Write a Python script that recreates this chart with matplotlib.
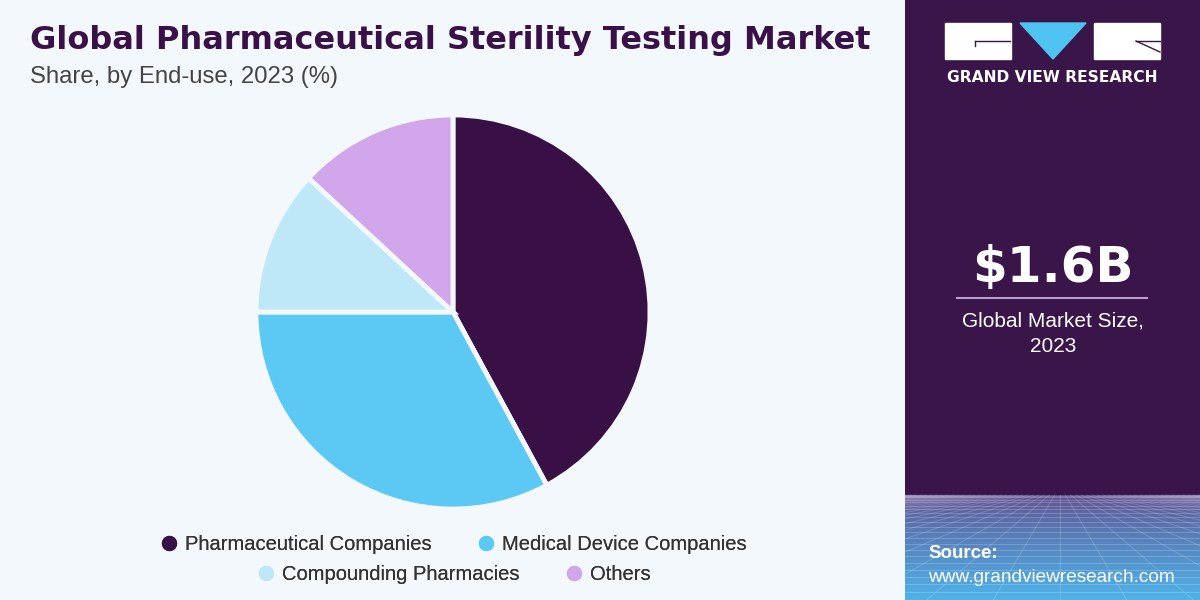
import matplotlib
matplotlib.use("Agg")
import matplotlib.pyplot as plt
import numpy as np
from matplotlib.lines import Line2D
from matplotlib.patches import Rectangle, Polygon

# data
segments = ["Pharmaceutical Companies", "Medical Device Companies",
            "Compounding Pharmacies", "Others"]
shares = [42.1, 32.9, 11.9, 13.1]
colors = ["#391046", "#5cc9f5", "#bee8f8", "#d1a6ea"]

title = "Global Pharmaceutical Sterility Testing Market"
subtitle = "Share, by End-use, 2023 (%)"
market_size = "$1.6B"
market_label = "Global Market Size,\n2023"

W, H = 1200, 600
bg = "#f3f8fc"
panel = "#3a1549"
dark = "#3a1048"

fig = plt.figure(figsize=(12, 6), dpi=100, facecolor=bg)

# pie
cx, cy, r = 453, 312, 199
ax = fig.add_axes([(cx - r) / W, (H - cy - r) / H, 2 * r / W, 2 * r / H])
ax.pie(shares, colors=colors, startangle=90, counterclock=False,
       wedgeprops=dict(edgecolor=bg, linewidth=3.5))
ax.set_xlim(-1.01, 1.01)
ax.set_ylim(-1.01, 1.01)
ax.set_aspect("equal")
ax.axis("off")

# titles
fig.text(30 / W, 1 - 40 / H, title, fontsize=23, fontweight="heavy",
         color=dark, va="center", ha="left", family="DejaVu Sans")
fig.text(30 / W, 1 - 77 / H, subtitle, fontsize=17.2, color="#444444",
         va="center", ha="left", family="Liberation Sans")

# legend, two centred rows
handles = [Line2D([], [], marker="o", linestyle="none", markersize=10,
                  markerfacecolor=c, markeredgecolor=c) for c in colors]
for row, y in ((0, 545), (1, 575)):
    leg = fig.legend(handles[2 * row:2 * row + 2], segments[2 * row:2 * row + 2],
                     loc="center", bbox_to_anchor=(cx / W, 1 - y / H), ncol=2,
                     frameon=False, handletextpad=0.3, columnspacing=2.2,
                     handlelength=1.0,
                     prop=dict(family="Liberation Sans", size=14.5))
    for t in leg.get_texts():
        t.set_color("#333333")
    fig.add_artist(leg)

# right panel
x0 = 905
axr = fig.add_axes([x0 / W, 0, (W - x0) / W, 1])
axr.axis("off")
axr.add_patch(Rectangle((x0, 0), W - x0, H, color=panel, zorder=0))

# gradient floor
hz = 495
grad = np.linspace(0, 1, 200)[:, None]
c_top = np.array([0.38, 0.31, 0.56])
c_bot = np.array([0.31, 0.70, 0.91])
img = c_top + (c_bot - c_top) * grad[..., None] ** 0.8
img = np.repeat(img, 2, axis=1)
axr.imshow(img, extent=(x0, W, H, hz), aspect="auto", zorder=1)
# perspective grid
for k in range(1, 22):
    y = hz + (H - hz) * (k / 21) ** 1.6
    axr.plot([x0, W], [y, y], color="white", alpha=0.2, lw=0.7, zorder=2)
vx = 1060
for k in np.linspace(-2000, 2000, 61):
    axr.plot([vx + k * 0.08, vx + k], [hz, H], color="white", alpha=0.18,
             lw=0.7, zorder=2)
axr.set_xlim(x0, W)
axr.set_ylim(H, 0)

# logo
axr.add_patch(Rectangle((945, 23), 66, 36, color="white", zorder=3))
axr.add_patch(Polygon([(1020, 23), (1086, 23), (1053, 59)], color="#4fc3f2",
                      zorder=3))
axr.add_patch(Rectangle((1094, 23), 66, 36, color="white", zorder=3))
axr.plot([975, 1010], [41, 41], color=panel, lw=1, zorder=4)
axr.plot([975, 975], [41, 46], color=panel, lw=1, zorder=4)
axr.plot([1136, 1160], [41, 41], color=panel, lw=1, zorder=4)
axr.plot([1136, 1160], [41, 52], color=panel, lw=1, zorder=4)
axr.text(1052, 78, "GRAND VIEW RESEARCH", color="white", fontsize=11.2,
         fontweight="bold", ha="center", va="center", family="DejaVu Sans")

axr.text(1053, 268, market_size, color="white", fontsize=36, fontweight="bold",
         ha="center", va="center", family="DejaVu Sans", zorder=3)
axr.plot([957, 1147], [298, 298], color="#b9a0cc", lw=1.5, zorder=3)
axr.text(1053, 334, market_label, color="white", fontsize=15, ha="center",
         va="center", linespacing=1.45, family="Liberation Sans", zorder=3)

axr.text(928, 553, "Source:", color="white", fontsize=13.5, fontweight="bold",
         ha="left", va="center", family="Liberation Sans", zorder=3)
axr.text(928, 577, "www.grandviewresearch.com", color="white", fontsize=13.7,
         ha="left", va="center", family="Liberation Sans", zorder=3)

fig.savefig("out.png", dpi=100, facecolor=bg)
